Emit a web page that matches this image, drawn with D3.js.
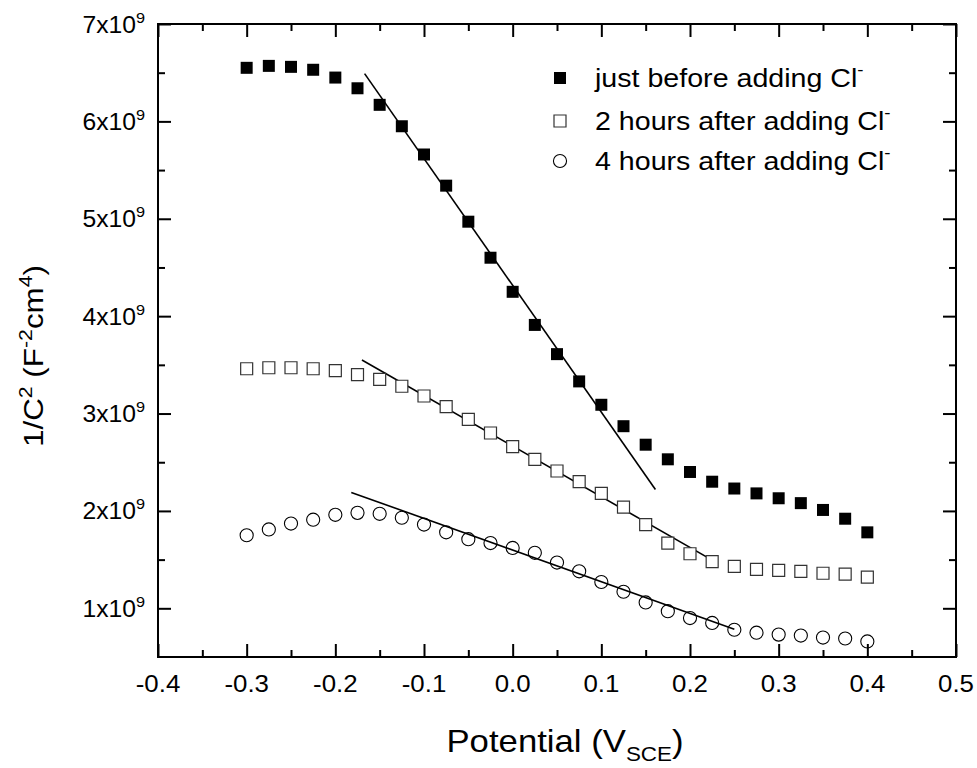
<!DOCTYPE html>
<html>
<head>
<meta charset="utf-8">
<script src="https://cdn.jsdelivr.net/npm/d3@7"></script>
<style>
  body { margin: 0; background: #fff; }
  svg { display: block; font-family: "Liberation Sans", Arial, sans-serif; }
</style>
</head>
<body>
<div id="chart"></div>
<script>
// potential (V vs SCE), one reading every 25 mV
const potentials = [-0.3, -0.275, -0.25, -0.225, -0.2, -0.175, -0.15, -0.125, -0.1, -0.075,
  -0.05, -0.025, 0, 0.025, 0.05, 0.075, 0.1, 0.125, 0.15, 0.175,
  0.2, 0.225, 0.25, 0.275, 0.3, 0.325, 0.35, 0.375, 0.4];

// 1/C^2 in units of 1e9 F^-2 cm^4
const beforeCl = [6.55, 6.57, 6.56, 6.53, 6.45, 6.34, 6.17, 5.95, 5.66, 5.34,
  4.97, 4.60, 4.25, 3.91, 3.61, 3.33, 3.09, 2.87, 2.68, 2.53,
  2.40, 2.30, 2.23, 2.18, 2.13, 2.08, 2.01, 1.92, 1.78];
const after2h = [3.46, 3.47, 3.47, 3.46, 3.44, 3.40, 3.35, 3.28, 3.18, 3.07,
  2.94, 2.80, 2.66, 2.53, 2.41, 2.30, 2.18, 2.04, 1.86, 1.67,
  1.56, 1.48, 1.43, 1.40, 1.39, 1.38, 1.36, 1.35, 1.32];
const after4h = [1.75, 1.81, 1.87, 1.91, 1.96, 1.98, 1.97, 1.93, 1.86, 1.78,
  1.71, 1.67, 1.62, 1.57, 1.47, 1.38, 1.27, 1.17, 1.06, 0.97,
  0.90, 0.85, 0.78, 0.75, 0.73, 0.72, 0.70, 0.69, 0.66];

// Mott-Schottky fit lines, [potential, 1/C^2 (1e9)] end points
const fitBefore = [[-0.167, 6.49], [0.161, 2.22]];
const fit2h = [[-0.170, 3.55], [0.226, 1.49]];
const fit4h = [[-0.182, 2.19], [0.250, 0.785]];

const seriesNames = ['just before adding Cl', '2 hours after adding Cl', '4 hours after adding Cl'];

const xTicks = [-0.4, -0.3, -0.2, -0.1, 0.0, 0.1, 0.2, 0.3, 0.4, 0.5];
const xMinor = [-0.35, -0.25, -0.15, -0.05, 0.05, 0.15, 0.25, 0.35, 0.45];
const yTicks = [1, 2, 3, 4, 5, 6, 7];
const yMinor = [1.5, 2.5, 3.5, 4.5, 5.5, 6.5];

const W = 977, H = 768;
const SX = 1.1; // horizontal stretch of the lettering in the original figure

const svg = d3.select('#chart').append('svg')
  .attr('width', W).attr('height', H);

const x = d3.scaleLinear().domain([-0.4, 0.5]).range([158, 956]);
const y = d3.scaleLinear().domain([0.5, 7]).range([657, 24]);

// stretched text helper
function stext(g, px, py, anchor, size, sx = SX) {
  return g.append('text')
    .attr('transform', `translate(${px},${py}) scale(${sx},1)`)
    .attr('text-anchor', anchor)
    .attr('font-size', size)
    .attr('fill', '#000');
}

// axes: ticks point inward on all four sides
const axes = svg.append('g').attr('class', 'axes');

function styleAxis(g) {
  g.select('.domain').remove();
  g.selectAll('.tick line').attr('stroke', '#000').attr('stroke-width', 2);
}

axes.append('g').attr('transform', `translate(0,${y(0.5)})`)
  .call(d3.axisBottom(x).tickValues(xTicks).tickSize(-13).tickFormat(''))
  .call(styleAxis);
axes.append('g').attr('transform', `translate(0,${y(0.5)})`)
  .call(d3.axisBottom(x).tickValues(xMinor).tickSize(-7).tickFormat(''))
  .call(styleAxis);
axes.append('g').attr('transform', `translate(0,${y(7)})`)
  .call(d3.axisTop(x).tickValues(xTicks).tickSize(-13).tickFormat(''))
  .call(styleAxis);
axes.append('g').attr('transform', `translate(0,${y(7)})`)
  .call(d3.axisTop(x).tickValues(xMinor).tickSize(-7).tickFormat(''))
  .call(styleAxis);
axes.append('g').attr('transform', `translate(${x(-0.4)},0)`)
  .call(d3.axisLeft(y).tickValues(yTicks).tickSize(-13).tickFormat(''))
  .call(styleAxis);
axes.append('g').attr('transform', `translate(${x(-0.4)},0)`)
  .call(d3.axisLeft(y).tickValues(yMinor).tickSize(-7).tickFormat(''))
  .call(styleAxis);
axes.append('g').attr('transform', `translate(${x(0.5)},0)`)
  .call(d3.axisRight(y).tickValues(yTicks).tickSize(-13).tickFormat(''))
  .call(styleAxis);
axes.append('g').attr('transform', `translate(${x(0.5)},0)`)
  .call(d3.axisRight(y).tickValues(yMinor).tickSize(-7).tickFormat(''))
  .call(styleAxis);

// frame
svg.append('rect')
  .attr('x', x(-0.4)).attr('y', y(7))
  .attr('width', x(0.5) - x(-0.4)).attr('height', y(0.5) - y(7))
  .attr('fill', 'none').attr('stroke', '#000').attr('stroke-width', 2);

// tick labels
const labels = svg.append('g').attr('class', 'labels');
xTicks.forEach(v => {
  stext(labels, x(v), y(0.5) + 35, 'middle', 23.5).text(v.toFixed(1));
});
yTicks.forEach(v => {
  const t = stext(labels, x(-0.4) - 13, y(v) + 8.5, 'end', 23.5, 1.05);
  t.append('tspan').text(`${v}x10`);
  t.append('tspan').attr('dy', -10).attr('font-size', 15.5).text('9');
});

// axis titles
const xt = stext(svg, (x(-0.4) + x(0.5)) / 2 + 8, 752, 'middle', 31, 1.12);
xt.append('tspan').text('Potential (V');
xt.append('tspan').attr('dy', 9).attr('font-size', 20).text('SCE');
xt.append('tspan').attr('dy', -9).text(')');

const yt = svg.append('text')
  .attr('transform', `translate(43,356) rotate(-90) scale(1.12,1)`)
  .attr('text-anchor', 'middle')
  .attr('font-size', 28);
yt.append('tspan').text('1/C');
yt.append('tspan').attr('dy', -11).attr('font-size', 19).text('2');
yt.append('tspan').attr('dy', 11).text(' (F');
yt.append('tspan').attr('dy', -11).attr('font-size', 19).text('-2');
yt.append('tspan').attr('dy', 11).text('cm');
yt.append('tspan').attr('dy', -11).attr('font-size', 19).text('4');
yt.append('tspan').attr('dy', 11).text(')');

// fit lines
const line = d3.line().x(d => x(d[0])).y(d => y(d[1]));
svg.append('g').attr('class', 'fits')
  .selectAll('path').data([fitBefore, fit2h, fit4h]).join('path')
  .attr('d', line)
  .attr('fill', 'none').attr('stroke', '#000').attr('stroke-width', 1.6);

// markers
const sq = d3.symbol().type(d3.symbolSquare).size(144);
const ci = d3.symbol().type(d3.symbolCircle).size(135);
const styles = [
  { sym: sq(), fill: '#000', stroke: 'none', sw: 0 },
  { sym: sq(), fill: '#fff', stroke: '#333', sw: 1.2 },
  { sym: ci(), fill: 'none', stroke: '#000', sw: 1.1 }
];
[beforeCl, after2h, after4h].forEach((vals, k) => {
  const st = styles[k];
  svg.append('g').attr('class', 'series-' + k)
    .selectAll('path').data(vals).join('path')
    .attr('transform', (d, i) => `translate(${x(potentials[i])},${y(d)})`)
    .attr('d', st.sym)
    .attr('fill', st.fill).attr('stroke', st.stroke).attr('stroke-width', st.sw);
});

// legend
const legend = svg.append('g').attr('class', 'legend');
const rowY = [78, 121, 161];
seriesNames.forEach((name, k) => {
  const st = styles[k];
  legend.append('path')
    .attr('transform', `translate(560,${rowY[k]})`)
    .attr('d', st.sym)
    .attr('fill', st.fill).attr('stroke', st.stroke).attr('stroke-width', st.sw);
  const t = stext(legend, 595, rowY[k] + 9, 'start', 26);
  t.append('tspan').text(name);
  t.append('tspan').attr('dy', -12).attr('font-size', 17).text('-');
});
</script>
</body>
</html>
